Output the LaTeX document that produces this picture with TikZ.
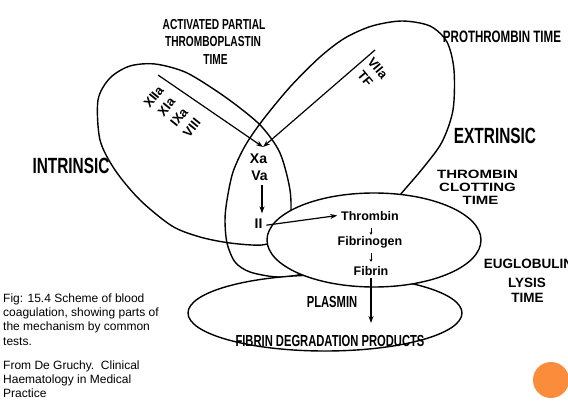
\documentclass[tikz,border=0pt]{standalone}
\usepackage{fontspec}
\setmainfont{Liberation Sans}
\newfontfamily\condfont[FakeStretch=0.7]{Liberation Sans}
\newfontfamily\widefont[FakeStretch=1.25]{Liberation Sans}
\usetikzlibrary{arrows.meta}
\definecolor{dotorange}{RGB}{250,140,60}
\begin{document}
\begin{tikzpicture}[x=1pt,y=-1pt,
 outline/.style={line width=1.4pt},
 lab/.style={inner sep=0pt, outer sep=0pt, anchor=base},
 condlab/.style={lab, font=\condfont\bfseries\fontsize{16}{19}\selectfont},
 widelab/.style={lab, font=\widefont\bfseries\fontsize{12}{14}\selectfont},
 eulab/.style={lab, font=\bfseries\fontsize{13.5}{16}\selectfont},
 factor/.style={inner sep=0pt, font=\bfseries\fontsize{13}{16.3}\selectfont, align=center},
 chem/.style={lab, font=\bfseries\fontsize{12.5}{15}\selectfont},
 captext/.style={inner sep=0pt, anchor=base west, font=\fontsize{12}{14}\selectfont},
 arr/.style={line width=1.2pt, -{Stealth[length=7pt,width=5pt]}},
 smallarr/.style={line width=0.7pt, -{Stealth[length=3pt,width=3pt]}},
]
\useasboundingbox (0,0) rectangle (568,420);

% intrinsic
\draw[outline] plot[smooth cycle] coordinates {(98,100) (110,78) (130,66) (155,64) (185,72) (215,90) (240,108) (262,127) (280,153) (290,190) (290,220) (280,238) (262,245) (230,243) (200,237) (172,226) (140,200) (115,170) (100,140)};
% extrinsic
\draw[outline] plot[smooth cycle] coordinates {(250,272) (235,262) (227,243) (225,220) (227,200) (233,172) (245,146) (262,121) (290,87) (320,57) (345,38) (372,26) (402,21) (430,26) (447,42) (454,70) (453,110) (442,142) (423,168) (400,195) (375,225) (340,255) (305,273) (278,277)};
% plasmin
\draw[outline, fill=white] (325,313) ellipse [x radius=137pt, y radius=38pt];
% thrombin
\draw[outline, fill=white] (374,240) ellipse [x radius=107pt, y radius=47pt];

% labels
\node[condlab, font=\condfont\bfseries\fontsize{14.5}{17}\selectfont] (aptt1) at (214,30) {ACTIVATED PARTIAL};
\node[condlab, font=\condfont\bfseries\fontsize{14.5}{17}\selectfont] (aptt2) at (213,47) {THROMBOPLASTIN};
\node[condlab, font=\condfont\bfseries\fontsize{14.5}{17}\selectfont] (aptt3) at (215.5,65) {TIME};
\node[condlab, font=\condfont\bfseries\fontsize{16.5}{19}\selectfont] (pt) at (502,43) {PROTHROMBIN TIME};
\node[condlab, font=\condfont\bfseries\fontsize{22}{26}\selectfont] (ext) at (495,143) {EXTRINSIC};
\node[condlab, font=\condfont\bfseries\fontsize{22}{26}\selectfont] (int) at (71,173) {INTRINSIC};
\node[condlab] (plasmin) at (332,307) {PLASMIN};
\node[condlab] (fdp) at (330,346) {FIBRIN DEGRADATION PRODUCTS};

\node[widelab] (tct1) at (477.5,178) {THROMBIN};
\node[widelab] (tct2) at (477.5,191) {CLOTTING};
\node[widelab] (tct3) at (480.5,204) {TIME};

\node[eulab] (elt1) at (528.5,268) {EUGLOBULIN};
\node[eulab] (elt2) at (527,287) {LYSIS};
\node[eulab] (elt3) at (527.5,302) {TIME};

\node[lab, font=\bfseries\fontsize{14}{16}\selectfont] (Xa) at (258.5,163) {Xa};
\node[lab, font=\bfseries\fontsize{14}{16}\selectfont] (Va) at (259.5,180) {Va};
\node[lab, font=\bfseries\fontsize{14}{16}\selectfont] (II) at (258.5,228) {II};

\node[chem] (thr) at (370,220) {Thrombin};
\node[chem] (fbg) at (370,245) {Fibrinogen};
\node[chem] (fib) at (371,275) {Fibrin};

\node[factor, rotate=51] (intf) at (172.75,112.25) {XIIa\\XIa\\IXa\\VIII};
\node[factor, rotate=-50] (extf) at (371.5,73.5) {VIIa\\TF};

% connectors
\coordinate (conv) at (263,147);
\coordinate (intstart) at (158,75);
\coordinate (extstart) at (375,50);
\coordinate (fdpin) at (371,323);
\draw[arr] (intstart) -- (conv);
\draw[arr] (extstart) -- (conv);
\draw[arr] ([xshift=2.5pt,yshift=-5pt]Va.south) -- ([xshift=3.5pt,yshift=5pt]II.north);
\draw[arr] ([xshift=4pt,yshift=-2pt]II.east) -- ([xshift=-4pt]thr.west);
\draw[smallarr] ([xshift=1pt,yshift=-8pt]thr.south) -- ([xshift=1pt,yshift=1pt]fbg.north);
\draw[smallarr] ([xshift=1pt,yshift=-5.5pt]fbg.south) -- ([yshift=4pt]fib.north);
\draw[arr] ([yshift=-3pt]fib.south) -- (fdpin);

% caption
\node[captext] (c1) at (3,302) {Fig: 15.4 Scheme of blood};
\node[captext] (c2) at (3,316.3) {coagulation, showing parts of};
\node[captext] (c3) at (3,330.6) {the mechanism by common};
\node[captext] (c4) at (3,345) {tests.};
\node[captext] (c5) at (3,369) {From De Gruchy.\ \ Clinical};
\node[captext] (c6) at (3,383.3) {Haematology in Medical};
\node[captext] (c7) at (3,397.6) {Practice};

\fill[dotorange] (551,380) circle (18pt);
\end{tikzpicture}
\end{document}
